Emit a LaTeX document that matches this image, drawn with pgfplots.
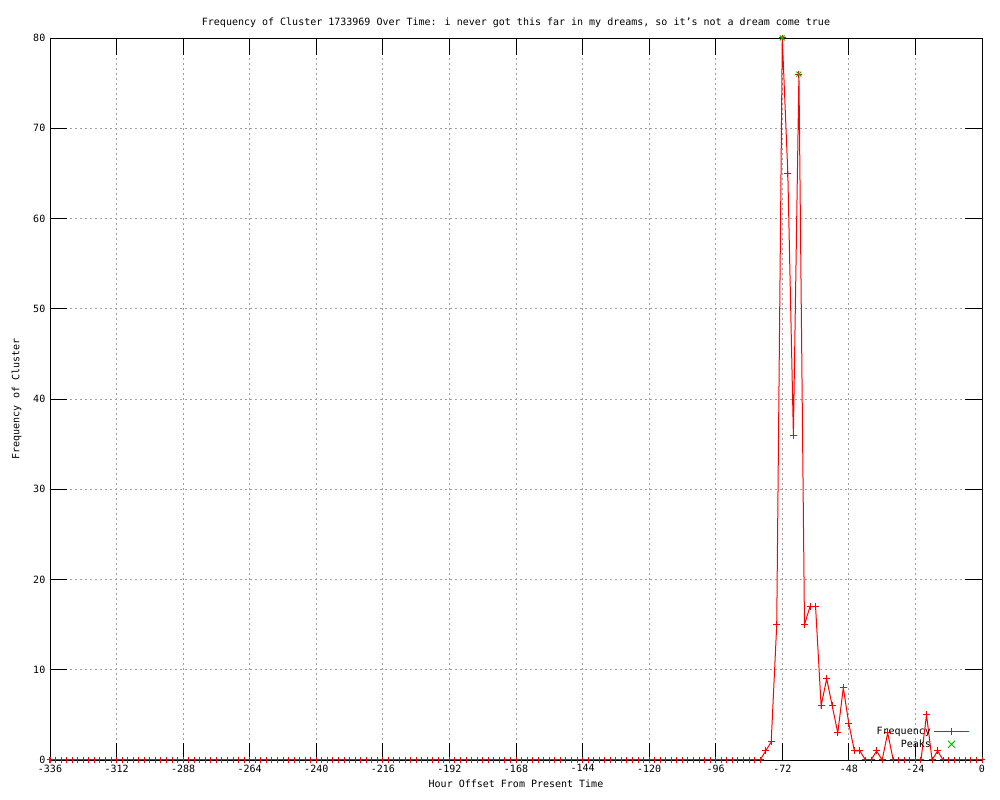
\documentclass[border=0pt]{standalone}
\usepackage{pgfplots}
\pgfplotsset{compat=1.18}
\usepackage{pgfplotstable}
\usepackage{fontspec}
\setmainfont{DejaVu Sans Mono}
\definecolor{gpred}{RGB}{255,0,0}
\definecolor{gpgreen}{RGB}{0,192,0}
\pgfplotstableread{
x y
-336 0
-334 0
-332 0
-330 0
-328 0
-326 0
-324 0
-322 0
-320 0
-318 0
-316 0
-314 0
-312 0
-310 0
-308 0
-306 0
-304 0
-302 0
-300 0
-298 0
-296 0
-294 0
-292 0
-290 0
-288 0
-286 0
-284 0
-282 0
-280 0
-278 0
-276 0
-274 0
-272 0
-270 0
-268 0
-266 0
-264 0
-262 0
-260 0
-258 0
-256 0
-254 0
-252 0
-250 0
-248 0
-246 0
-244 0
-242 0
-240 0
-238 0
-236 0
-234 0
-232 0
-230 0
-228 0
-226 0
-224 0
-222 0
-220 0
-218 0
-216 0
-214 0
-212 0
-210 0
-208 0
-206 0
-204 0
-202 0
-200 0
-198 0
-196 0
-194 0
-192 0
-190 0
-188 0
-186 0
-184 0
-182 0
-180 0
-178 0
-176 0
-174 0
-172 0
-170 0
-168 0
-166 0
-164 0
-162 0
-160 0
-158 0
-156 0
-154 0
-152 0
-150 0
-148 0
-146 0
-144 0
-142 0
-140 0
-138 0
-136 0
-134 0
-132 0
-130 0
-128 0
-126 0
-124 0
-122 0
-120 0
-118 0
-116 0
-114 0
-112 0
-110 0
-108 0
-106 0
-104 0
-102 0
-100 0
-98 0
-96 0
-94 0
-92 0
-90 0
-88 0
-86 0
-84 0
-82 0
-80 0
-78 1
-76 2
-74 15
-72 80
-70 65
-68 36
-66 76
-64 15
-62 17
-60 17
-58 6
-56 9
-54 6
-52 3
-50 8
-48 4
-46 1
-44 1
-42 0
-40 0
-38 1
-36 0
-34 3
-32 0
-30 0
-28 0
-26 0
-24 0
-22 0
-20 5
-18 0
-16 1
-14 0
-12 0
-10 0
-8 0
-6 0
-4 0
-2 0
0 0
}\freqtable
\pgfplotstableread{
x y
-72 80
-66 76
}\peaktable
\begin{document}
\begin{tikzpicture}[x=0.75pt,y=0.75pt]
\begin{axis}[
  name=ax,
  scale only axis,
  width=699pt, height=541.5pt,
  xmin=-336, xmax=0, ymin=0, ymax=80,
  xtick={-336,-312,...,0},
  ytick={0,10,...,80},
  font=\fontsize{7.5}{9}\selectfont,
  /pgf/number format/assume math mode=true,
  tick align=inside,
  major tick length=12.75pt,
  tick style={black, line width=0.6pt},
  axis line style={black, line width=0.6pt},
  grid=major,
  major grid style={color={rgb,255:red,160;green,160;blue,160}, dash pattern=on 1.5pt off 2.25pt, line width=0.6pt},
  title={Frequency of Cluster 1733969 Over Time: i never got this far in my dreams, so it’s not a dream come true},
  title style={yshift=-1.5pt},
  xlabel={Hour Offset From Present Time},
  ylabel={Frequency of Cluster},
  xlabel style={yshift=1pt},
  ylabel style={yshift=2pt},
  legend cell align=right,
  legend plot pos=right,
  legend style={draw=none, fill=none, at={(0.987,0.011)}, anchor=south east, inner sep=0pt, font=\fontsize{7.5}{9}\selectfont, row sep=-1.5pt},
]
\addplot[gpred, line width=0.75pt, mark=+, mark size=2.6pt, mark options={line width=0.75pt},
  legend image code/.code={\draw[gpred, line width=0.9pt] (0cm,0cm) -- (0.92cm,0cm);
    \draw[gpred, line width=0.9pt] (0.46cm,-2.6pt) -- (0.46cm,2.6pt);}] table[x=x,y=y] {\freqtable};
\addlegendentry{Frequency}
\addplot[only marks, gpgreen, mark=x, mark size=2.6pt, mark options={line width=0.75pt},
  legend image code/.code={\draw[gpgreen, line width=0.75pt] (0.46cm-2.6pt,-2.6pt) -- (0.46cm+2.6pt,2.6pt) (0.46cm-2.6pt,2.6pt) -- (0.46cm+2.6pt,-2.6pt);}] table[x=x,y=y] {\peaktable};
\addlegendentry{Peaks}
\end{axis}
\path ([xshift=-37.5pt,yshift=-30pt]ax.south west) rectangle ([xshift=13.5pt,yshift=28.5pt]ax.north east);
\end{tikzpicture}
\end{document}
